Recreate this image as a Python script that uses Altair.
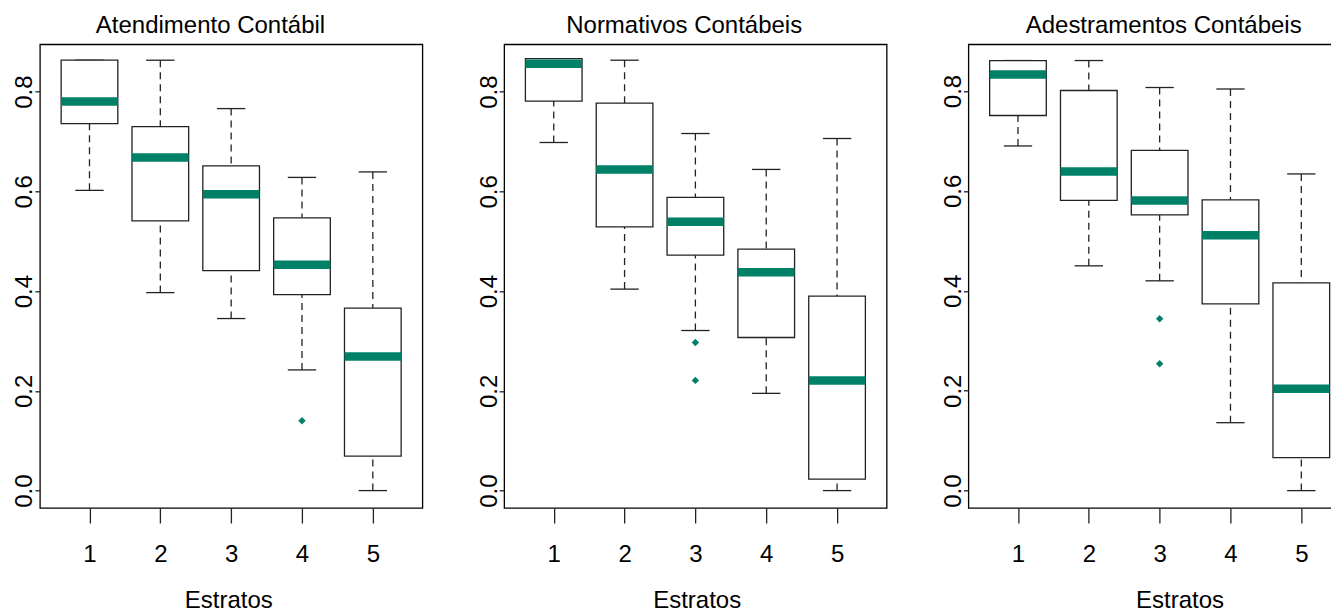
import altair as alt
import pandas as pd

estratos = [1, 2, 3, 4, 5]
titles = ["Atendimento Contábil", "Normativos Contábeis", "Adestramentos Contábeis"]
y_ticks = [0.0, 0.2, 0.4, 0.6, 0.8]

# Panel 1 - Atendimento Contábil
p1_lo = [0.602, 0.397, 0.345, 0.242, 0.000]
p1_q1 = [0.736, 0.541, 0.441, 0.393, 0.069]
p1_med = [0.780, 0.668, 0.594, 0.453, 0.269]
p1_q3 = [0.863, 0.730, 0.651, 0.547, 0.366]
p1_hi = [0.863, 0.863, 0.766, 0.628, 0.639]
p1_out_x = [4]
p1_out_y = [0.140]

# Panel 2 - Normativos Contábeis
p2_lo = [0.698, 0.404, 0.321, 0.195, 0.000]
p2_q1 = [0.781, 0.529, 0.472, 0.307, 0.023]
p2_med = [0.856, 0.644, 0.539, 0.438, 0.221]
p2_q3 = [0.866, 0.777, 0.588, 0.484, 0.390]
p2_hi = [0.866, 0.863, 0.716, 0.644, 0.706]
p2_out_x = [3, 3]
p2_out_y = [0.297, 0.221]

# Panel 3 - Adestramentos Contábeis
p3_lo = [0.690, 0.450, 0.420, 0.136, 0.000]
p3_q1 = [0.751, 0.581, 0.552, 0.374, 0.066]
p3_med = [0.833, 0.639, 0.581, 0.511, 0.204]
p3_q3 = [0.861, 0.801, 0.681, 0.582, 0.416]
p3_hi = [0.861, 0.861, 0.807, 0.804, 0.634]
p3_out_x = [3, 3]
p3_out_y = [0.344, 0.254]

GREEN = "#008066"
LINE = "#222222"
FONT = "Liberation Sans"
FS = 24
W = 382.5
H = 463.7


def panel(title, lo, q1, med, q3, hi, ox, oy, ydom, title_dx, xtitle_x):
    df = pd.DataFrame({"estrato": estratos, "lo": lo, "q1": q1, "med": med,
                       "q3": q3, "hi": hi})
    odf = pd.DataFrame({"estrato": ox, "v": oy})
    xsc = alt.Scale(domain=[0.3, 5.7], nice=False, zero=False)
    ysc = alt.Scale(domain=ydom, nice=False, zero=False)
    xax = alt.Axis(values=estratos, title="Estratos", grid=False, domain=False,
                   tickSize=15, tickColor=LINE, tickWidth=1.3,
                   labelFontSize=FS, labelFont=FONT, labelColor="black",
                   labelBaseline="alphabetic", labelPadding=38.6,
                   labelFlush=False, labelOverlap=False,
                   titleFontSize=FS, titleFont=FONT, titleFontWeight="normal",
                   titleColor="black", titleBaseline="alphabetic",
                   titleAlign="center", titleX=xtitle_x, titleY=99.5)
    yax = alt.Axis(values=y_ticks, format=".1f", title=None, grid=False,
                   domain=False, tickSize=5, tickColor=LINE, tickWidth=1.3,
                   labelFontSize=FS, labelFont=FONT, labelColor="black",
                   labelAngle=270, labelAlign="center",
                   labelBaseline="alphabetic", labelPadding=3,
                   labelFlush=False, labelOverlap=False)

    def X(f):
        return alt.X(f, type="quantitative", scale=xsc, axis=xax)

    def Y(f):
        return alt.Y(f, type="quantitative", scale=ysc, axis=yax)

    base = alt.Chart(df).transform_calculate(
        xl="datum.estrato - 0.4", xr="datum.estrato + 0.4",
        sl="datum.estrato - 0.2", sr="datum.estrato + 0.2")

    wu = base.mark_rule(color=LINE, strokeWidth=1.3, strokeDash=[7, 5]).encode(
        x=X("estrato"), y=Y("hi"), y2="q3:Q")
    wl = base.mark_rule(color=LINE, strokeWidth=1.3, strokeDash=[7, 5]).encode(
        x=X("estrato"), y=Y("lo"), y2="q1:Q")
    su = base.mark_rule(color=LINE, strokeWidth=1.3).encode(
        x=X("sl"), x2="sr:Q", y=Y("hi"))
    sl = base.mark_rule(color=LINE, strokeWidth=1.3).encode(
        x=X("sl"), x2="sr:Q", y=Y("lo"))
    box = base.mark_rect(fill="white", stroke=LINE, strokeWidth=1.3).encode(
        x=X("xl"), x2="xr:Q", y=Y("q1"), y2="q3:Q")
    md = base.mark_rule(color=GREEN, strokeWidth=8.5, strokeCap="butt").encode(
        x=X("xl"), x2="xr:Q", y=Y("med"))
    pts = alt.Chart(odf).mark_point(shape="diamond", filled=True, size=55,
                                    color=GREEN, opacity=1).encode(
        x=X("estrato"), y=Y("v"))

    return alt.layer(wu, wl, su, sl, box, md, pts).properties(
        width=W, height=H,
        title=alt.TitleParams(title, fontSize=FS, font=FONT,
                              fontWeight="normal", color="black",
                              baseline="alphabetic", offset=-12.3, dx=title_dx,
                              anchor="middle", frame="group"))


c1 = panel(titles[0], p1_lo, p1_q1, p1_med, p1_q3, p1_hi, p1_out_x, p1_out_y,
           [-0.0349, 0.8949], -20.65, 188.4)
c2 = panel(titles[1], p2_lo, p2_q1, p2_med, p2_q3, p2_hi, p2_out_x, p2_out_y,
           [-0.0349, 0.8949], -11.2, 192.55)
c3 = panel(titles[2], p3_lo, p3_q1, p3_med, p3_q3, p3_hi, p3_out_x, p3_out_y,
           [-0.0348, 0.8935], 4.05, 211.2)

chart = alt.hconcat(c1, c2, c3, spacing=81.25, bounds="flush").properties(
    padding={"left": 3.9, "top": 4.3, "right": -21, "bottom": 0}
).configure(
    font=FONT,
    view=alt.ViewConfig(stroke="black", strokeWidth=1.3),
)

chart.save("out.html", embed_options={"renderer": "svg", "actions": False})
